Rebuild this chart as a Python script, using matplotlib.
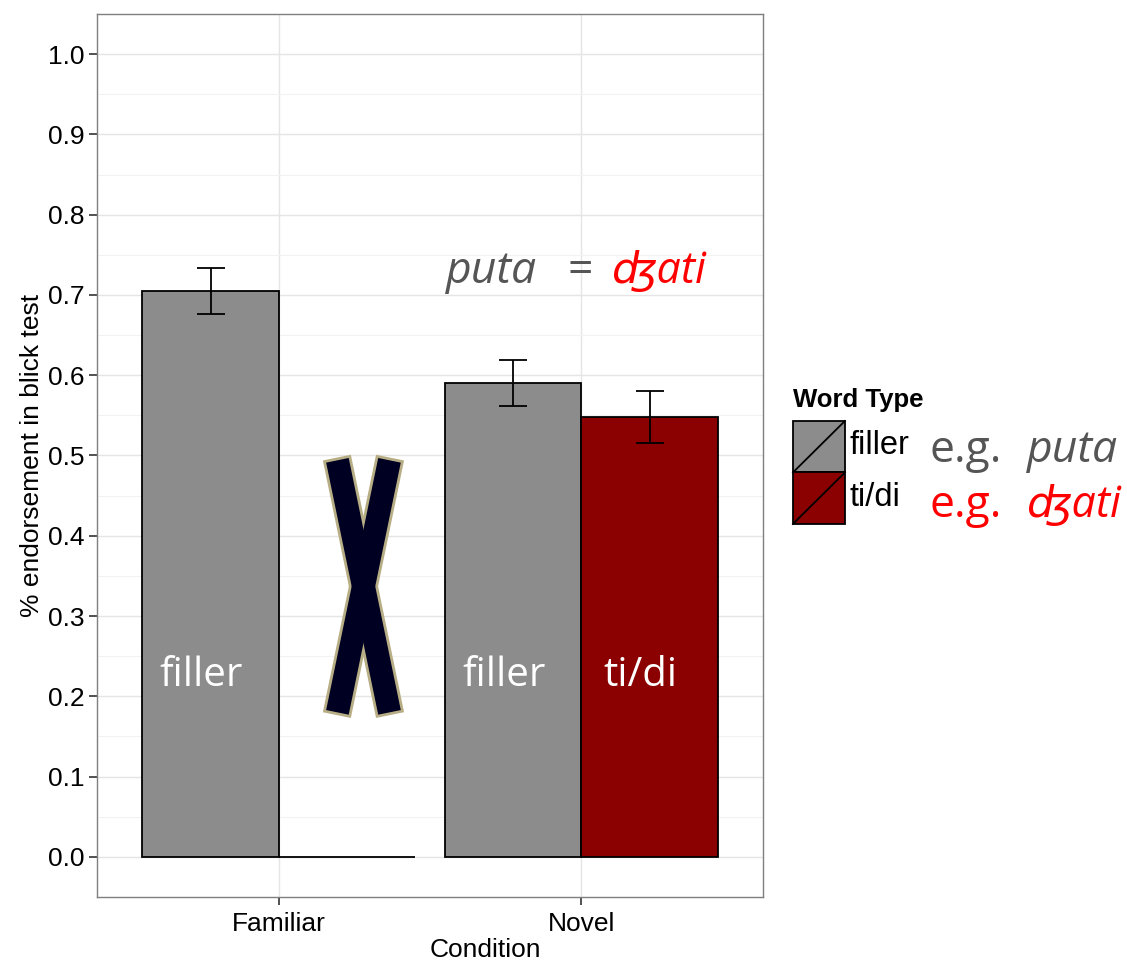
import numpy as np
import matplotlib
matplotlib.use('Agg')
import matplotlib.pyplot as plt
from matplotlib.patches import Polygon, Rectangle
from matplotlib.lines import Line2D

# data
conditions = ['Familiar', 'Novel']
word_types = ['filler', 'ti/di']
means = {'filler': [0.705, 0.590], 'ti/di': [0.0, 0.548]}
err_low = {'filler': [0.676, 0.562], 'ti/di': [np.nan, 0.516]}
err_high = {'filler': [0.733, 0.619], 'ti/di': [np.nan, 0.580]}
bar_labels = {'filler': ['filler', 'filler'], 'ti/di': [None, 'ti/di']}
fills = {'filler': '#8c8c8c', 'ti/di': '#8b0000'}
examples = {'filler': ('e.g.', 'puta', '#555555'), 'ti/di': ('e.g.', 'ʤati', '#ff0000')}

yticks = np.arange(0, 1.01, 0.1)

fig = plt.figure(figsize=(11.27, 9.64), dpi=100)
ax = fig.add_axes([0.0861, 0.0695, 0.591, 0.916])

tick_font = ['Liberation Sans', 'DejaVu Sans']
ann_font = ['Open Sans', 'DejaVu Sans']

x = np.arange(1, len(conditions) + 1)
width = 0.45
for i, wt in enumerate(word_types):
    xpos = x + (i - 0.5) * width
    ax.bar(xpos, means[wt], width=width, color=fills[wt], edgecolor='black', linewidth=1.3, zorder=3)
    lo = np.array(err_low[wt])
    hi = np.array(err_high[wt])
    ok = ~np.isnan(lo)
    ax.errorbar(xpos[ok], (lo[ok] + hi[ok]) / 2, yerr=(hi[ok] - lo[ok]) / 2, fmt='none',
                ecolor='black', elinewidth=1.3, capsize=10, capthick=1.3, zorder=4)
    for xp, lab in zip(xpos, bar_labels[wt]):
        if lab:
            ax.text(xp - 0.03, 0.213, lab, ha='center', va='baseline', color='white', fontsize=29,
                    family=ann_font, zorder=5)

# the crossed-out missing bar (two arms, outlined as one shape)
cx, cy = 1.28, 0.337
half_dx, half_dy = 0.086, 0.157
px_x, px_y = 302.0, 804.0   # pixels per data unit, used to square the arm ends
half_w_px = 11.5
arms = []
for sgn in (1, -1):
    top = np.array([cx - sgn * half_dx, cy + half_dy])
    bot = np.array([cx + sgn * half_dx, cy - half_dy])
    d = (bot - top) * [px_x, px_y]
    perp = np.array([-d[1], d[0]]) / np.hypot(*d) * half_w_px / [px_x, px_y]
    arms.append([top + perp, top - perp, bot - perp, bot + perp])
for pts in arms:
    ax.add_patch(Polygon(pts, closed=True, facecolor='#000022', edgecolor='#b8ae86',
                         linewidth=4, zorder=6))
for pts in arms:
    ax.add_patch(Polygon(pts, closed=True, facecolor='#000022', edgecolor='none', zorder=7))

# equation annotation
ax.text(1.553, 0.715, 'puta', ha='left', va='baseline', color='#555555', fontsize=32,
        style='italic', family=ann_font)
ax.text(1.955, 0.715, '=', ha='left', va='baseline', color='#555555', fontsize=32, family=ann_font)
ax.text(2.10, 0.715, 'ʤati', ha='left', va='baseline', color='#ff0000', fontsize=31,
        style='italic', family=ann_font)

ax.set_xlim(0.4, 2.6)
ax.set_ylim(-0.05, 1.05)
ax.set_xticks(x)
ax.set_xticklabels(conditions)
ax.set_yticks(yticks)
ax.set_yticklabels([f'{v:.1f}' for v in yticks])
ax.set_yticks(np.arange(0.05, 1.05, 0.1), minor=True)
ax.grid(True, which='major', color='#e5e5e5', linewidth=1.0, zorder=0)
ax.grid(True, which='minor', axis='y', color='#f2f2f2', linewidth=0.8, zorder=0)
ax.set_axisbelow(True)
for sp in ax.spines.values():
    sp.set_color('#7f7f7f')
    sp.set_linewidth(1.0)
ax.tick_params(which='major', length=6, width=1.2, color='#333333', labelsize=19,
               labelcolor='black', pad=3)
ax.tick_params(axis='x', pad=5)
ax.tick_params(which='minor', length=0)
for lab in ax.get_xticklabels() + ax.get_yticklabels():
    lab.set_family(tick_font)
ax.set_xlabel('Condition', fontsize=19, family=tick_font)
ax.xaxis.set_label_coords(0.583, -0.046)
ax.set_ylabel('% endorsement in blick test', fontsize=19, family=tick_font, labelpad=3)

# legend
fig.text(0.7036, 0.5855, 'Word Type', fontsize=18.5, fontweight='bold', family=tick_font,
         ha='left', va='center')
kx, kw, kh = 0.7036, 0.0461, 0.0534
ktop = 0.5633
for i, wt in enumerate(word_types):
    y0 = ktop - (i + 1) * kh
    fig.add_artist(Rectangle((kx, y0), kw, kh, transform=fig.transFigure, facecolor=fills[wt],
                             edgecolor='black', linewidth=1.3))
    fig.add_artist(Line2D([kx, kx + kw], [y0, y0 + kh], transform=fig.transFigure,
                          color='black', linewidth=1.3))
    fig.text(kx + kw + 0.004, y0 + kh / 2 + 0.001, wt, fontsize=23.5, family=tick_font,
             ha='left', va='center')
    pre, word, col = examples[wt]
    ty = 0.5207 if i == 0 else 0.4637
    fig.text(0.825, ty, pre, fontsize=32, family=ann_font, color=col, ha='left', va='baseline')
    fig.text(0.911, ty, word, fontsize=32 if i == 0 else 31, family=ann_font, color=col,
             style='italic', ha='left', va='baseline')

fig.savefig('out.png', dpi=100)
